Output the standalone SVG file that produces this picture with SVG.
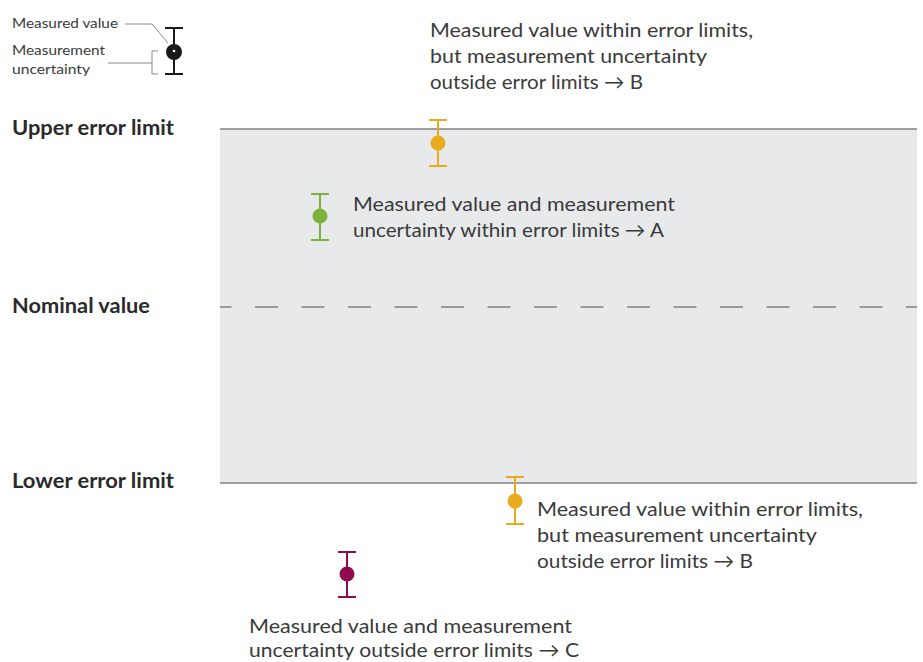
<svg xmlns="http://www.w3.org/2000/svg" width="923" height="662" viewBox="0 0 923 662">
<style>
text{font-family:Lato,"Noto Sans","Liberation Sans",sans-serif;fill:#3a3a3a}
.lbl{font-weight:bold;font-size:20px;fill:#2a2a2a}
.ann{font-size:20px}
.leg{font-size:14px}
.bar{stroke-width:2;fill:none}
.lim{stroke:#808080;stroke-width:1.5}
.lead{stroke:#8a8a8a;stroke-width:1;fill:none}
</style>
<rect x="220" y="129" width="697" height="354" fill="#e8e9eb"/>
<g id="limits">
<line class="lim" x1="220" y1="129" x2="917" y2="129"/>
<line class="lim" x1="220" y1="483" x2="917" y2="483"/>
<line class="lim" x1="220" y1="307" x2="917" y2="307" stroke-dasharray="23 23.5" stroke-dashoffset="11.5"/>
</g>
<g id="labels">
<text class="lbl" x="12" y="135" textLength="162" lengthAdjust="spacingAndGlyphs">Upper error limit</text>
<text class="lbl" x="12" y="313" textLength="138" lengthAdjust="spacingAndGlyphs">Nominal value</text>
<text class="lbl" x="12" y="488" textLength="162" lengthAdjust="spacingAndGlyphs">Lower error limit</text>
</g>
<g id="legend">
<text class="leg" x="12" y="28" textLength="106" lengthAdjust="spacingAndGlyphs">Measured value</text>
<text class="leg" x="12" y="55" textLength="93" lengthAdjust="spacingAndGlyphs">Measurement</text>
<text class="leg" x="12" y="74" textLength="78" lengthAdjust="spacingAndGlyphs">uncertainty</text>
<polyline class="lead" points="125,24 152,24 168,43"/>
<line class="lead" x1="108" y1="63" x2="152" y2="63"/>
<polyline class="lead" points="158,51 152,51 152,74 158,74"/>
<g stroke="#1a1a1a" class="bar"><line x1="165" y1="28" x2="183" y2="28"/><line x1="165" y1="74" x2="183" y2="74"/><line x1="174" y1="28" x2="174" y2="74"/></g>
<circle cx="174" cy="52" r="8" fill="#1a1a1a"/>
<circle cx="174" cy="51" r="1.3" fill="#ffffff"/>
</g>
<g id="point-b-top">
<g stroke="#e8ab1c" class="bar"><line x1="429" y1="120" x2="447" y2="120"/><line x1="429" y1="166" x2="447" y2="166"/><line x1="438" y1="120" x2="438" y2="166"/></g>
<circle cx="438" cy="143" r="7.5" fill="#e8ab1c"/>
<text class="ann" x="430" y="37" textLength="323" lengthAdjust="spacingAndGlyphs">Measured value within error limits,</text>
<text class="ann" x="430" y="63" textLength="277" lengthAdjust="spacingAndGlyphs">but measurement uncertainty</text>
<text class="ann" x="430" y="89" textLength="213" lengthAdjust="spacingAndGlyphs">outside error limits → B</text>
</g>
<g id="point-a">
<g stroke="#7db23c" class="bar"><line x1="311" y1="194" x2="329" y2="194"/><line x1="311" y1="240" x2="329" y2="240"/><line x1="320" y1="194" x2="320" y2="240"/></g>
<circle cx="320" cy="216" r="7.5" fill="#7db23c"/>
<text class="ann" x="353" y="211" textLength="322" lengthAdjust="spacingAndGlyphs">Measured value and measurement</text>
<text class="ann" x="353" y="237" textLength="311" lengthAdjust="spacingAndGlyphs">uncertainty within error limits → A</text>
</g>
<g id="point-b-bottom">
<g stroke="#e8ab1c" class="bar"><line x1="506" y1="477" x2="524" y2="477"/><line x1="506" y1="524" x2="524" y2="524"/><line x1="515" y1="477" x2="515" y2="524"/></g>
<circle cx="515" cy="501" r="7.5" fill="#e8ab1c"/>
<text class="ann" x="537" y="516" textLength="326" lengthAdjust="spacingAndGlyphs">Measured value within error limits,</text>
<text class="ann" x="537" y="542" textLength="280" lengthAdjust="spacingAndGlyphs">but measurement uncertainty</text>
<text class="ann" x="537" y="568" textLength="216" lengthAdjust="spacingAndGlyphs">outside error limits → B</text>
</g>
<g id="point-c">
<g stroke="#8e0c4e" class="bar"><line x1="338" y1="552" x2="356" y2="552"/><line x1="338" y1="597" x2="356" y2="597"/><line x1="347" y1="552" x2="347" y2="597"/></g>
<circle cx="347" cy="574" r="7.5" fill="#8e0c4e"/>
<text class="ann" x="249" y="633" textLength="323" lengthAdjust="spacingAndGlyphs">Measured value and measurement</text>
<text class="ann" x="249" y="657" textLength="330" lengthAdjust="spacingAndGlyphs">uncertainty outside error limits → C</text>
</g>
</svg>
